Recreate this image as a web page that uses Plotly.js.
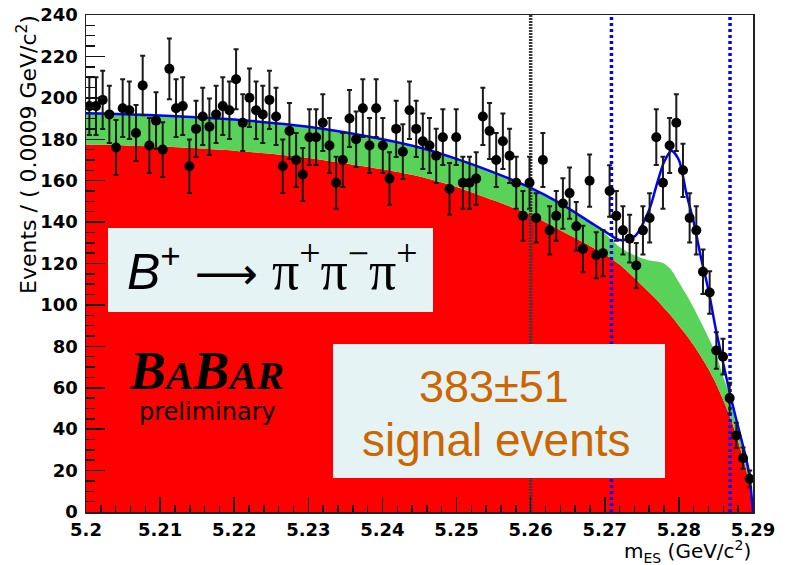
<!DOCTYPE html>
<html>
<head>
<meta charset="utf-8">
<script src="https://cdn.plot.ly/plotly-3.0.1.min.js"></script>
<style>
  html, body { margin: 0; padding: 0; background: #ffffff; }
  #chart { width: 787px; height: 565px; }
</style>
</head>
<body>
<div id="chart"></div>
<script>
// ---- histogram binning (m_ES, 100 bins of 0.0009 GeV/c^2 from 5.2 to 5.29) ----
const binLow = 5.2;
const binWidth = 0.0009;

// ---- data: events per bin ----
const events = [
  196, 196, 199, 192, 176, 195, 194, 183, 206, 177,
  189, 175, 214, 195, 196, 167, 185, 191, 186, 192,
  196, 194, 209, 188, 200, 194, 192, 199, 191, 167,
  184, 170, 163, 181, 181, 188, 177, 159, 170, 190,
  180, 195, 177, 195, 177, 161, 185, 174, 194, 185,
  179, 177, 172, 181, 156, 181, 159, 159, 161, 191,
  184, 170, 179, 172, 159, 143, 159, 142, 170, 136,
  143, 149, 154, 138, 127, 160, 124, 125, 155, 143,
  136, 132, 119, 136, 142, 181, 159, 177, 188, 165,
  142, 136, 116, 106, 78, 75, 55, 37, 26, 16
];

// ---- fit curves ----
const curveX = [5.200, 5.210, 5.220, 5.230, 5.240, 5.245, 5.250, 5.255, 5.260, 5.264,
                5.268, 5.270, 5.272, 5.274, 5.276, 5.277, 5.278, 5.279, 5.280, 5.281,
                5.282, 5.283, 5.284, 5.285, 5.286, 5.287, 5.288, 5.289, 5.2895, 5.290];
// total fit (blue line)
const fitTotal = [192.5, 191.5, 189.5, 186, 180, 176, 170.5, 164, 156.5, 149,
                  140, 135.5, 131.3, 133, 146, 158, 169, 174.5, 170, 154,
                  140, 122.5, 107, 88, 71.5, 55.5, 41, 27, 18, 0];
// continuum + BB background (top of green band)
const fitBackground = [192.5, 191.5, 189.5, 186, 180, 176, 170.5, 164, 156.5, 149,
                       140, 134.5, 128, 124, 121.5, 121, 120, 116.8, 111, 105,
                       98.5, 91.5, 84.2, 76.5, 65, 55.5, 41, 27, 18, 0];
// continuum only (top of red area)
const fitContinuum = [177.5, 176.5, 174.5, 171, 165.5, 162, 157, 150.5, 143.5, 136,
                      128.5, 124.5, 119.5, 113, 106, 102.5, 98.5, 94.5, 90, 85.5,
                      80.5, 75, 69, 62, 54, 45, 34, 21.5, 13.5, 0];

// ---- vertical marker lines ----
const blackLineX = [5.26];
const blueLinesX = [5.2709, 5.2869];

// ---- tick labels ----
const xTickVals = [5.2, 5.21, 5.22, 5.23, 5.24, 5.25, 5.26, 5.27, 5.28, 5.29];
const xTickText = ['5.2', '5.21', '5.22', '5.23', '5.24', '5.25', '5.26', '5.27', '5.28', '5.29'];
const yTickVals = [0, 20, 40, 60, 80, 100, 120, 140, 160, 180, 200, 220, 240];
const yTickText = ['0', '20', '40', '60', '80', '100', '120', '140', '160', '180', '200', '220', '240'];

const xRange = [5.2, 5.29];
const yRange = [0, 240];

const binCenters = events.map((_, i) => binLow + (i + 0.5) * binWidth);

function vlineTrace(xs, color, width, dash) {
  const x = [], y = [];
  xs.forEach(v => { x.push(v, v, null); y.push(yRange[0], yRange[1], null); });
  return { x, y, type: 'scatter', mode: 'lines', hoverinfo: 'skip',
           line: { color, width, dash }, showlegend: false };
}

const traces = [
  { x: curveX, y: fitContinuum, type: 'scatter', mode: 'lines', fill: 'tozeroy',
    fillcolor: '#ff0000', line: { color: '#ff0000', width: 0, shape: 'spline', smoothing: 0.8 },
    showlegend: false },
  { x: curveX, y: fitBackground, type: 'scatter', mode: 'lines', fill: 'tonexty',
    fillcolor: '#58d258', line: { color: '#58d258', width: 0, shape: 'spline', smoothing: 0.8 },
    showlegend: false },
  { x: curveX, y: fitTotal, type: 'scatter', mode: 'lines',
    line: { color: '#0000ff', width: 2.5, shape: 'spline', smoothing: 0.8 }, showlegend: false },
  vlineTrace(blackLineX, '#3a3a3a', 3.5, '2px,1px'),
  vlineTrace(blueLinesX, '#0000ff', 3.5, '3px,3px'),
  { x: binCenters, y: events, type: 'scatter', mode: 'markers',
    marker: { color: '#000000', size: 10 },
    error_y: { type: 'sqrt', color: '#1a1a1a', thickness: 2, width: 2.5 },
    showlegend: false }
];

// helpers: pixel -> paper
const L = 86, R = 753, T = 15, B = 512;
const px = X => (X - L) / (R - L);
const py = Y => (B - Y) / (B - T);

const boxColor = '#e6f3f4';

const layout = {
  width: 787, height: 565,
  margin: { l: L, r: 787 - R, t: T, b: 565 - B, pad: 0 },
  paper_bgcolor: '#ffffff', plot_bgcolor: '#ffffff',
  showlegend: false,
  xaxis: {
    range: xRange, tickvals: xTickVals, ticktext: xTickText,
    ticks: 'inside', ticklen: 15, tickwidth: 1.5, tickcolor: '#111',
    minor: { dtick: 0.002, ticks: 'inside', ticklen: 7, tickwidth: 1.5, tickcolor: '#111' },
    showgrid: false, zeroline: false,
    showline: true, linecolor: '#222', linewidth: 1.5, mirror: true,
    tickfont: { family: 'DejaVu Sans', size: 18, color: '#000', weight: 'bold' },
    ticklabelstandoff: 1
  },
  yaxis: {
    range: yRange, tickvals: yTickVals, ticktext: yTickText,
    ticks: 'inside', ticklen: 19, tickwidth: 1.5, tickcolor: '#111',
    minor: { dtick: 5, ticks: 'inside', ticklen: 9, tickwidth: 1.5, tickcolor: '#111' },
    showgrid: false, zeroline: false,
    showline: true, linecolor: '#222', linewidth: 1.5, mirror: true,
    tickfont: { family: 'DejaVu Sans', size: 18, color: '#000', weight: 'bold' },
    ticklabelstandoff: 3
  },
  shapes: [
    { type: 'rect', xref: 'paper', yref: 'paper', x0: px(108), x1: px(433), y0: py(312), y1: py(228),
      fillcolor: boxColor, line: { width: 0 }, layer: 'above' },
    { type: 'rect', xref: 'paper', yref: 'paper', x0: px(333), x1: px(665), y0: py(478), y1: py(344),
      fillcolor: boxColor, line: { width: 0 }, layer: 'above' }
  ],
  annotations: [
    { xref: 'paper', yref: 'paper', x: px(272), y: py(266), xanchor: 'center', yanchor: 'middle',
      showarrow: false,
      font: { family: 'Liberation Sans', size: 50, color: '#000' },
      text: '<i>B</i><sup>+</sup><span style="font-family:\'DejaVu Sans\';font-size:44px"> ⟶ </span><span style="font-family:\'Liberation Serif\';font-size:54px">π<sup>+</sup>π<sup>−</sup>π<sup>+</sup></span>' },
    { xref: 'paper', yref: 'paper', x: px(206), y: py(371), xanchor: 'center', yanchor: 'middle',
      showarrow: false,
      font: { family: 'Liberation Serif', size: 54, color: '#000' },
      text: '<b><i>B<span style="font-size:41px">A</span>B<span style="font-size:41px">AR</span></i></b>' },
    { xref: 'paper', yref: 'paper', x: px(207), y: py(412), xanchor: 'center', yanchor: 'middle',
      showarrow: false,
      font: { family: 'DejaVu Sans', size: 24, color: '#000' },
      text: 'preliminary' },
    { xref: 'paper', yref: 'paper', x: px(494), y: py(386), xanchor: 'center', yanchor: 'middle',
      showarrow: false,
      font: { family: 'Liberation Sans', size: 45, color: '#cc6600' },
      text: '383±51' },
    { xref: 'paper', yref: 'paper', x: px(497), y: py(440), xanchor: 'center', yanchor: 'middle',
      showarrow: false,
      font: { family: 'Liberation Sans', size: 46, color: '#cc6600' },
      text: 'signal events' },
    { xref: 'paper', yref: 'paper', x: px(27), y: py(155), xanchor: 'center', yanchor: 'middle',
      textangle: -90, showarrow: false,
      font: { family: 'DejaVu Sans', size: 22, color: '#000' },
      text: 'Events / ( 0.0009 GeV/c<sup>2</sup>)' },
    { xref: 'paper', yref: 'paper', x: px(752), y: py(551), xanchor: 'right', yanchor: 'middle',
      showarrow: false, borderpad: 0,
      font: { family: 'DejaVu Sans', size: 20, color: '#000' },
      text: 'm<sub>ES</sub> (GeV/c<sup>2</sup>)' }
  ]
};

Plotly.newPlot('chart', traces, layout, { displayModeBar: false, staticPlot: true });
</script>
</body>
</html>
